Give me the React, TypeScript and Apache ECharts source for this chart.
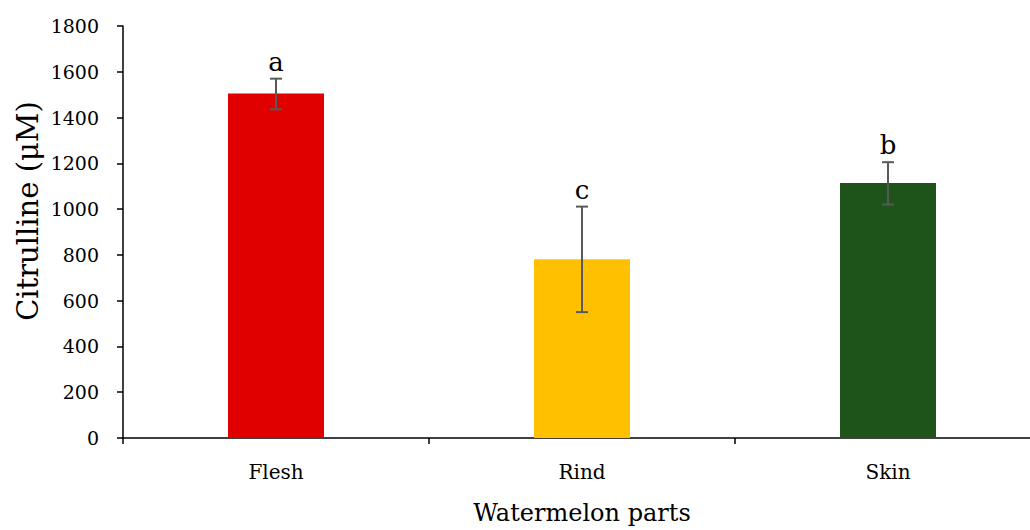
import React, { useEffect, useRef } from "react";
import * as echarts from "echarts";

const categories = ["Flesh", "Rind", "Skin"];
const values = [1505, 781, 1114];
const errLow = [1436, 550, 1020];
const errHigh = [1570, 1011, 1205];
const letters = ["a", "c", "b"];
const colors = ["#E00000", "#FFC000", "#1E5319"];
const yTicks = { min: 0, max: 1800, interval: 200 };

const FONT = "DejaVu Serif";

export default function App() {
  const ref = useRef<HTMLDivElement>(null);
  useEffect(() => {
    if (!ref.current) return;
    const chart = echarts.init(ref.current, null, { renderer: "svg" });
    const errData = categories.map((c, i) => [i, errLow[i], errHigh[i]]);
    chart.setOption({
      animation: false,
      backgroundColor: "#ffffff",
      grid: { left: 123, right: 0, top: 26, bottom: 89, containLabel: false },
      graphic: [
        {
          type: "text",
          x: 28,
          y: 211,
          rotation: Math.PI / 2,
          style: {
            text: "Citrulline (μM)",
            fontFamily: FONT,
            fontSize: 29,
            fill: "#000",
            align: "center",
            verticalAlign: "middle",
          },
        },
      ],
      xAxis: {
        type: "category",
        data: categories,
        name: "Watermelon parts",
        nameLocation: "middle",
        nameGap: 63,
        nameTextStyle: { fontFamily: FONT, fontSize: 24, color: "#000" },
        axisLine: { lineStyle: { color: "#000", width: 1.5 } },
        axisTick: { show: true, length: 6, lineStyle: { color: "#000", width: 1.5 } },
        axisLabel: { fontFamily: FONT, fontSize: 20, color: "#000", margin: 24 },
      },
      yAxis: {
        type: "value",
        min: yTicks.min,
        max: yTicks.max,
        interval: yTicks.interval,
        axisLine: { show: true, lineStyle: { color: "#000", width: 1.5 } },
        axisTick: { show: true, length: 6, lineStyle: { color: "#000", width: 1.5 } },
        axisLabel: {
          fontFamily: FONT,
          fontSize: 19,
          color: "#000",
          margin: 24,
          formatter: (v: number) => String(v),
        },
        splitLine: { show: false },
      },
      series: [
        {
          type: "bar",
          barWidth: 96,
          data: values.map((v, i) => ({ value: v, itemStyle: { color: colors[i] } })),
        },
        {
          type: "custom",
          data: errData,
          z: 10,
          renderItem: (params: any, api: any) => {
            const x = api.value(0);
            const lo = api.coord([x, api.value(1)]);
            const hi = api.coord([x, api.value(2)]);
            const half = 6;
            const style = { stroke: "#595959", lineWidth: 2 };
            return {
              type: "group",
              children: [
                { type: "line", shape: { x1: lo[0], y1: lo[1], x2: hi[0], y2: hi[1] }, style },
                { type: "line", shape: { x1: hi[0] - half, y1: hi[1], x2: hi[0] + half, y2: hi[1] }, style },
                { type: "line", shape: { x1: lo[0] - half, y1: lo[1], x2: lo[0] + half, y2: lo[1] }, style },
                {
                  type: "text",
                  x: hi[0],
                  y: hi[1] - 4,
                  style: {
                    text: letters[params.dataIndex],
                    fontFamily: FONT,
                    fontSize: 26,
                    fill: "#000",
                    align: "center",
                    verticalAlign: "bottom",
                  },
                },
              ],
            };
          },
        },
      ],
    });
    return () => chart.dispose();
  }, []);
  return (
    <div style={{ position: "absolute", left: 0, top: 0, width: 1030, height: 530, overflow: "hidden" }}>
      <div ref={ref} style={{ width: 1041, height: 530 }} />
    </div>
  );
}
